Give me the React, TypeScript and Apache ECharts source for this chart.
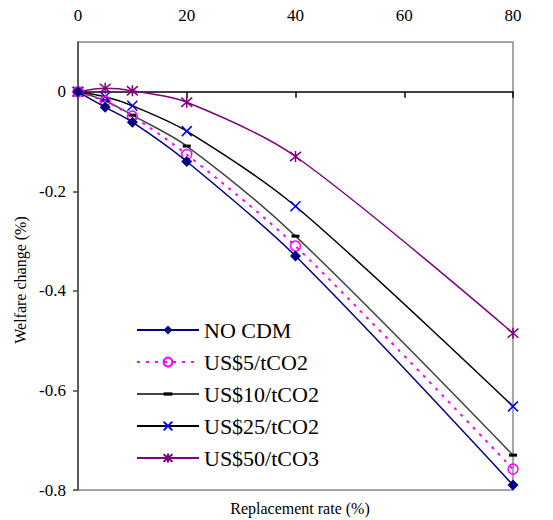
import React, { useEffect, useRef } from "react";
import * as echarts from "echarts";

const xValues = [0, 5, 10, 20, 40, 80];
const xTickLabels = [0, 20, 40, 60, 80];
const yTickValues = [-0.8, -0.6, -0.4, -0.2, 0];
const seriesNames = ["NO CDM", "US$5/tCO2", "US$10/tCO2", "US$25/tCO2", "US$50/tCO3"];
const noCdm = [0, -0.031, -0.061, -0.14, -0.33, -0.79];
const us5 = [0, -0.019, -0.049, -0.126, -0.31, -0.758];
const us10 = [0, -0.018, -0.047, -0.109, -0.29, -0.73];
const us25 = [0, -0.01, -0.028, -0.079, -0.23, -0.632];
const us50 = [0, 0.007, 0.002, -0.021, -0.13, -0.485];

const FONT = "Liberation Serif, Times New Roman, serif";

function pairs(ys: number[]) {
  return xValues.map((x, i) => [x, ys[i]]);
}

export default function App() {
  const ref = useRef<HTMLDivElement>(null);
  useEffect(() => {
    document.body.style.margin = "0";
    if (!ref.current) return;
    const chart = echarts.init(ref.current, null, { renderer: "svg" });
    const xPath = "path://M0,0L10,10M10,0L0,10";
    const starPath = "path://M0,0L10,10M10,0L0,10M5,-1L5,11";
    const dashPath = "path://M0,-2.5M0,0L8,0L8,3L0,3ZM8,5.5";
    chart.setOption({
      animation: false,
      backgroundColor: "#fff",
      grid: {
        left: 78,
        right: 40,
        top: 42,
        bottom: 30,
        show: true,
        borderColor: "#8a8a8a",
        borderWidth: 1.5,
        backgroundColor: "transparent",
      },
      xAxis: [
        {
          type: "value",
          position: "top",
          min: 0,
          max: 80,
          interval: 20,
          axisLine: { show: true, onZero: true, lineStyle: { color: "#000", width: 1.5 } },
          axisTick: { show: true, inside: true, length: 6, lineStyle: { color: "#000", width: 1.5 } },
          axisLabel: { show: false },
          splitLine: { show: false },
        },
        {
          type: "value",
          position: "top",
          min: 0,
          max: 80,
          interval: 20,
          axisLine: { show: false, onZero: false },
          axisTick: { show: false },
          axisLabel: {
            show: true,
            margin: 18,
            fontFamily: FONT,
            fontSize: 17,
            color: "#000",
            customValues: xTickLabels,
          },
          splitLine: { show: false },
        },
      ],
      yAxis: {
        type: "value",
        min: -0.8,
        max: 0.1,
        interval: 0.2,
        axisLine: { show: true, onZero: false, lineStyle: { color: "#444", width: 1.5 } },
        axisTick: {
          show: true,
          length: 5,
          lineStyle: { color: "#444", width: 1.5 },
          customValues: yTickValues,
        },
        axisLabel: {
          margin: 12,
          fontFamily: FONT,
          fontSize: 17,
          color: "#000",
          customValues: yTickValues,
          formatter: (v: number) => (Math.abs(v) < 1e-9 ? "0" : String(Math.round(v * 10) / 10)),
        },
        splitLine: { show: false },
      },
      legend: {
        orient: "vertical",
        left: 131,
        top: 314,
        itemWidth: 62,
        itemHeight: 11,
        itemGap: 10,
        textStyle: { fontFamily: FONT, fontSize: 22, color: "#000" },
        data: seriesNames,
      },
      graphic: [
        {
          type: "text",
          x: 20,
          y: 280,
          rotation: Math.PI / 2,
          style: {
            text: "Welfare change (%)",
            fontFamily: FONT,
            fontSize: 16,
            fill: "#000",
            align: "center",
            verticalAlign: "middle",
          },
        },
        {
          type: "text",
          x: 300,
          y: 508,
          style: {
            text: "Replacement rate (%)",
            fontFamily: FONT,
            fontSize: 16,
            fill: "#000",
            align: "center",
            verticalAlign: "middle",
          },
        },
      ],
      series: [
        {
          name: seriesNames[0],
          type: "line",
          smooth: 0.3,
          data: pairs(noCdm),
          symbol: "diamond",
          symbolSize: 11,
          itemStyle: { color: "#000080" },
          lineStyle: { color: "#000080", width: 1.5 },
          z: 5,
        },
        {
          name: seriesNames[1],
          type: "line",
          smooth: 0.3,
          data: pairs(us5),
          symbol: "circle",
          symbolSize: 10,
          itemStyle: { color: "rgba(255,255,255,0)", borderColor: "#ff00ff", borderWidth: 1.5 },
          lineStyle: { color: "#ff00ff", width: 2, type: [3, 6] },
          z: 4,
        },
        {
          name: seriesNames[2],
          type: "line",
          smooth: 0.3,
          data: pairs(us10),
          symbol: dashPath,
          symbolSize: 8,
          itemStyle: { color: "#000" },
          lineStyle: { color: "#444", width: 1.5 },
          z: 3,
        },
        {
          name: seriesNames[3],
          type: "line",
          smooth: 0.3,
          data: pairs(us25),
          symbol: xPath,
          symbolSize: 10,
          itemStyle: { color: "none", borderColor: "#0000ff", borderWidth: 1.5 },
          lineStyle: { color: "#000", width: 1.5 },
          z: 3,
        },
        {
          name: seriesNames[4],
          type: "line",
          smooth: 0.3,
          data: pairs(us50),
          symbol: starPath,
          symbolSize: 11,
          itemStyle: { color: "none", borderColor: "#800080", borderWidth: 1.5 },
          lineStyle: { color: "#800080", width: 1.5 },
          z: 3,
        },
      ],
    });
    return () => chart.dispose();
  }, []);
  return <div ref={ref} style={{ width: 553, height: 520 }} />;
}
